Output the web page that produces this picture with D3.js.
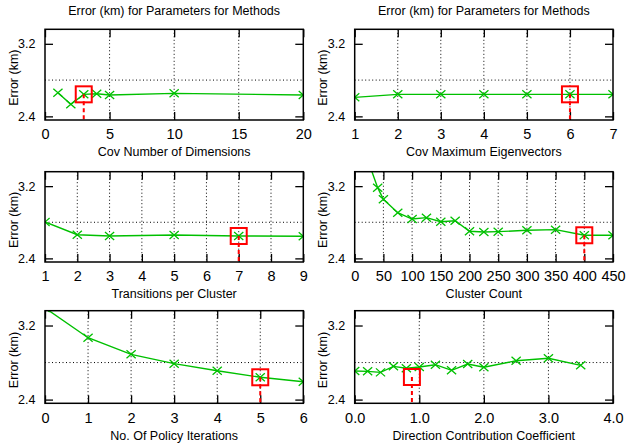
<!DOCTYPE html>
<html><head><meta charset="utf-8">
<script src="https://cdn.jsdelivr.net/npm/d3@7"></script>
<style>
body{margin:0;background:#fff;}
text{font-family:"Liberation Sans",Arial,Helvetica,sans-serif;fill:#000;}
</style></head>
<body><svg id="c" width="631" height="445"></svg>
<script>
const chartTitle = "Error (km) for Parameters for Methods";
const yLabel = "Error (km)";
const yDomain = [2.36, 3.36];
const yTicks = [2.4, 3.2];
const yGrid = [2.8];

const xLabels = ["Cov Number of Dimensions","Cov Maximum Eigenvectors","Transitions per Cluster","Cluster Count","No. Of Policy Iterations","Direction Contribution Coefficient"];

const dimX = [1,2,3,4,5,10,20];
const dimErr = [2.661,2.533,2.643,2.650,2.636,2.654,2.636];
const dimTicks = [0,5,10,15,20];

const eigX = [1,2,3,4,5,6,7];
const eigErr = [2.610,2.643,2.643,2.643,2.643,2.643,2.643];
const eigTicks = [1,2,3,4,5,6,7];

const transX = [1,2,3,5,7,9];
const transErr = [2.803,2.662,2.648,2.659,2.648,2.645];
const transTicks = [1,2,3,4,5,6,7,8,9];

const clusterX = [25,40,50,75,100,125,150,175,200,225,250,300,350,400,450];
const clusterErr = [3.45,3.183,3.054,2.906,2.836,2.851,2.806,2.817,2.700,2.692,2.696,2.711,2.718,2.656,2.656];
const clusterTicks = [0,50,100,150,200,250,300,350,400,450];

const iterX = [0,1,2,3,4,5,6];
const iterErr = [3.39,3.068,2.889,2.788,2.712,2.641,2.593];
const iterTicks = [0,1,2,3,4,5,6];

const coefX = [0,0.2,0.4,0.6,0.8,1.0,1.25,1.5,1.75,2.0,2.5,3.0,3.5];
const coefErr = [2.709,2.705,2.694,2.759,2.738,2.752,2.777,2.716,2.784,2.749,2.820,2.846,2.770];
const coefTicks = [0,1,2,3,4];

const selX = [3,6,7,400,5,0.886];
const selErr = [2.643,2.643,2.648,2.656,2.641,2.644];

const seriesX = [dimX,eigX,transX,clusterX,iterX,coefX];
const seriesErr = [dimErr,eigErr,transErr,clusterErr,iterErr,coefErr];
const tickSets = [dimTicks,eigTicks,transTicks,clusterTicks,iterTicks,coefTicks];
const tickFmt = [d3.format("d"),d3.format("d"),d3.format("d"),d3.format("d"),d3.format("d"),d3.format(".1f")];

const colLeft = [45, 354.7];
const plotW = 258.3;
const rowTop = [29.3, 171.7, 310.7];
const rowH = [90.7, 90.3, 92.6];
const green = "#00c000";

const svg = d3.select("#c");

for (let i = 0; i < 6; i++) {
  const col = i % 2, row = Math.floor(i / 2);
  const L = colLeft[col], T = rowTop[row], H = rowH[row];
  const ticks = tickSets[i];
  const x = d3.scaleLinear().domain([ticks[0], ticks[ticks.length-1]]).range([0, plotW]);
  const y = d3.scaleLinear().domain(yDomain).range([H, 0]);
  const g = svg.append("g").attr("transform", `translate(${L},${T})`);

  g.append("clipPath").attr("id","clip"+i).append("rect").attr("width",plotW).attr("height",H);

  // grid
  g.selectAll(".vg").data(ticks.slice(1,-1)).enter().append("line")
    .attr("x1",d=>x(d)).attr("x2",d=>x(d)).attr("y1",0).attr("y2",H)
    .attr("stroke","#000").attr("stroke-width",1).attr("stroke-dasharray","1,2.5");
  g.selectAll(".hg").data(yGrid).enter().append("line")
    .attr("x1",0).attr("x2",plotW).attr("y1",d=>y(d)).attr("y2",d=>y(d))
    .attr("stroke","#000").attr("stroke-width",1).attr("stroke-dasharray","1,2.5");

  // axes
  const ax = (a) => a.call(s => s.select(".domain").remove());
  g.append("g").attr("transform",`translate(0,${H})`)
    .call(d3.axisBottom(x).tickValues(ticks).tickFormat(tickFmt[i]).tickSizeInner(-8).tickSizeOuter(0).tickPadding(9))
    .call(s=>{s.select(".domain").remove(); s.selectAll("text").attr("font-size","14.5px").attr("font-family","Liberation Sans, Arial, sans-serif"); s.selectAll("line").attr("stroke-width",1.3);});
  g.append("g")
    .call(d3.axisTop(x).tickValues(ticks).tickFormat("").tickSizeInner(-8).tickSizeOuter(0))
    .call(s=>{s.select(".domain").remove(); s.selectAll("line").attr("stroke-width",1.3);});
  g.append("g")
    .call(d3.axisLeft(y).tickValues(yTicks).tickFormat(d3.format(".1f")).tickSizeInner(-8).tickSizeOuter(0).tickPadding(9.5))
    .call(s=>{s.select(".domain").remove(); s.selectAll("text").attr("font-size","12.5px").attr("font-family","Liberation Sans, Arial, sans-serif"); s.selectAll("line").attr("stroke-width",1.3);});
  g.append("g").attr("transform",`translate(${plotW},0)`)
    .call(d3.axisRight(y).tickValues(yTicks).tickFormat("").tickSizeInner(-8).tickSizeOuter(0))
    .call(s=>{s.select(".domain").remove(); s.selectAll("line").attr("stroke-width",1.3);});

  // series
  const pts = seriesX[i].map((v,k)=>[v, seriesErr[i][k]]);
  const pg = g.append("g").attr("clip-path",`url(#clip${i})`);
  pg.append("path").datum(pts)
    .attr("d", d3.line().x(d=>x(d[0])).y(d=>y(d[1])))
    .attr("fill","none").attr("stroke",green).attr("stroke-width",1.4);
  pg.selectAll(".m").data(pts).enter().append("path")
    .attr("transform",d=>`translate(${x(d[0])},${y(d[1])})`)
    .attr("d","M-4.6,-4L4.6,4M-4.6,4L4.6,-4")
    .attr("stroke",green).attr("stroke-width",1.3).attr("fill","none");

  // selection marker
  const sx = x(selX[i]), sy = y(selErr[i]);
  g.append("line").attr("x1",sx).attr("x2",sx).attr("y1",sy).attr("y2",H)
    .attr("stroke","#ff0000").attr("stroke-width",2).attr("stroke-dasharray","4,3");
  g.append("rect").attr("x",sx-8).attr("y",sy-8).attr("width",16).attr("height",16)
    .attr("fill","none").attr("stroke","#ff0000").attr("stroke-width",2);

  // frame
  g.append("rect").attr("width",plotW).attr("height",H).attr("fill","none").attr("stroke","#000").attr("stroke-width",1.5);

  // labels
  if (row === 0) {
    g.append("text").attr("x",plotW/2).attr("y",-14.3).attr("text-anchor","middle").attr("font-size","12.5px").text(chartTitle);
  }
  g.append("text").attr("x",plotW/2).attr("y",H+36.5).attr("text-anchor","middle").attr("font-size","12.5px").text(xLabels[i]);
  g.append("text").attr("transform",`translate(${-27.5},${H/2+3}) rotate(-90)`).attr("text-anchor","middle").attr("font-size","12.5px").text(yLabel);
}
</script></body></html>
